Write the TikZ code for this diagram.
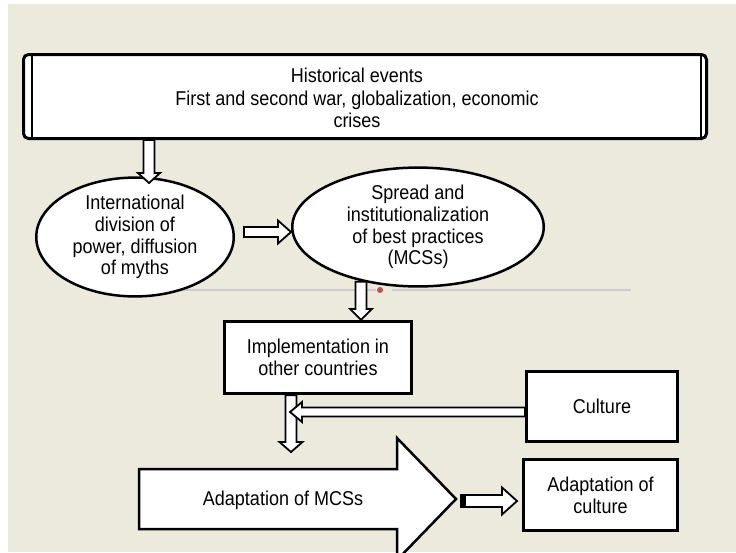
\documentclass[tikz,border=0pt]{standalone}
\usepackage{fontspec}
\setmainfont[FakeStretch=0.9]{Liberation Sans}
\usetikzlibrary{shapes.geometric,calc}
\definecolor{bg}{RGB}{236,233,221}
\definecolor{rulec}{RGB}{205,205,205}
\definecolor{dotc}{RGB}{192,80,77}
\tikzset{
  lbl/.style={font=\fontsize{20}{21.8}\selectfont, align=center, inner sep=0pt},
  boxn/.style={draw=black, line width=2.8pt, fill=white, inner sep=0pt,
    font=\fontsize{20}{21.8}\selectfont, align=center},
  elln/.style={ellipse, draw=black, line width=2.5pt, fill=white, inner sep=0pt,
    font=\fontsize{20}{21.8}\selectfont, align=center},
  sw/.store in=\arrSW, hw/.store in=\arrHW, hl/.store in=\arrHL,
  sw=5pt, hw=11pt, hl=11pt,
  hollow/.style={draw=black, line width=1.8pt, fill=white, line join=miter,
    to path={let \p1=(\tikztostart), \p2=(\tikztotarget),
      \n1={atan2(\y2-\y1,\x2-\x1)}, \n2={veclen(\x2-\x1,\y2-\y1)} in
      {[shift={(\p1)}, rotate=\n1]
        (0pt,\arrSW) -- (\n2*1pt-\arrHL,\arrSW) -- (\n2*1pt-\arrHL,\arrHW)
        -- (\n2*1pt,0pt) -- (\n2*1pt-\arrHL,-\arrHW) -- (\n2*1pt-\arrHL,-\arrSW)
        -- (0pt,-\arrSW) -- cycle}}}
}
\begin{document}
\begin{tikzpicture}[x=1pt,y=-1pt]
\useasboundingbox (0,0) rectangle (736,552);
\fill[white] (0,0) rectangle (736,552);
\fill[bg] (8,4) rectangle (736,552);

% slide divider
\draw[rulec, line width=2.5pt] (127,290) -- (376,290) (392,290) -- (631,290);
\fill[dotc] (380,290) circle[radius=3pt];

% top box
\node[boxn, rounded corners=5pt, line width=3pt, minimum width=683pt, minimum height=84pt] (top) at (365,96.5) {};
\draw[line width=2pt] ([xshift=10pt]top.north west) -- ([xshift=10pt]top.south west);
\draw[line width=2pt] ([xshift=-7pt]top.north east) -- ([xshift=-7pt]top.south east);
\node[lbl] (toptxt) at (357,98) {Historical events\\[1.5pt]First and second war, globalization, economic\\crises};

% ellipses
\node[elln, minimum width=197.5pt, minimum height=97.5pt] (e1) at (135,237)
  {International\\division of\\power, diffusion\\of myths};
\node[elln, minimum width=251.5pt, minimum height=89.5pt] (e2) at (418,227)
  {Spread and\\institutionalization\\of best practices\\(MCSs)};

% boxes
\node[boxn, minimum width=187.4pt, minimum height=72.4pt] (impl) at (318,357.5)
  {Implementation in\\other countries};
\node[boxn, minimum width=151.4pt, minimum height=70.4pt] (cult) at (602,406.5)
  {Culture};
\node[boxn, minimum width=154.4pt, minimum height=71.4pt] (adc) at (600.5,495)
  {Adaptation of\\culture};

% big block arrow
\draw[line width=2.5pt, fill=white, line join=miter]
  (139,469) -- (397,469) -- (397,438) -- (456,499) -- (397,560) -- (397,529) -- (139,529) -- cycle;
\coordinate (bigtip) at (456,499);
\node[lbl] (mcs) at (283,500) {Adaptation of MCSs};

% connector coordinates
\coordinate (a1e) at (149,183);
\coordinate (a2s) at (244,232);
\coordinate (a4e) at (291,452);
\coordinate (a5e) at (290,412);
\coordinate (a6s) at (461,501);
\coordinate (a6e) at (517,501);

% hollow arrows
\draw[hollow, sw=5.5pt, hw=11pt, hl=10pt] (top.south -| a1e) to (a1e);
\draw[hollow, sw=5pt, hw=11.5pt, hl=13pt] (a2s) to (e2.west |- a2s);
\draw[hollow, sw=5.5pt, hw=11pt, hl=11pt] (e2.south -| 361,0) ++(0,-6) to (impl.north -| 361,0);
\draw[hollow, sw=5.5pt, hw=11.5pt, hl=10pt] (impl.south -| a4e) to (a4e);
\draw[hollow, sw=4.5pt, hw=10pt, hl=12pt] (cult.west |- a5e) to (a5e);
\draw[hollow, sw=6pt, hw=13.5pt, hl=15pt] (a6s) to (a6e);
\fill ([yshift=-6pt]a6s) rectangle ([xshift=5pt,yshift=6pt]a6s);
\end{tikzpicture}
\end{document}
